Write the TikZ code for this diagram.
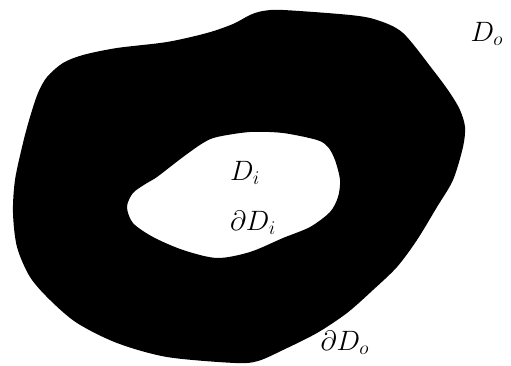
\documentclass[tikz,border=0pt]{standalone}
\begin{document}
\begin{tikzpicture}[x=1pt,y=-1pt,
  lbl/.style={inner sep=0pt,font=\fontsize{20}{24}\selectfont,scale=1.35,transform shape}]
\useasboundingbox (0,0) rectangle (511,366);
\fill[black,even odd rule]
  plot[smooth cycle,tension=0.5] coordinates {
    (250,15) (263,11) (283,10) (350,15) (377,20) (403,33) (433,70)
    (450,93) (460,110) (465,127) (463,147) (453,180) (437,207) (417,240)
    (397,267) (373,290) (347,313) (317,333) (283,350) (258,361) (235,363)
    (167,357) (117,343) (77,323) (50,300) (30,277) (17,247) (13,213)
    (15,180) (23,143) (30,117) (38,93) (47,77) (63,63) (83,55) (117,48)
    (167,42) (207,33) (233,24)}
  plot[smooth cycle,tension=0.5] coordinates {
    (250,132) (283,133) (317,140) (328,147) (335,160) (340,180) (338,197)
    (330,212) (310,227) (283,238) (250,252) (217,258) (183,250) (153,237)
    (133,223) (127,207) (133,193) (147,183) (157,177) (183,157) (203,143)
    (217,137)};
\node[lbl] (Do) at (487,34) {$D_o$};
\node[lbl] (Di) at (245,173) {$D_i$};
\node[lbl] (dDi) at (253,223) {$\partial D_i$};
\node[lbl] (dDo) at (345,343) {$\partial D_o$};
\end{tikzpicture}
\end{document}
